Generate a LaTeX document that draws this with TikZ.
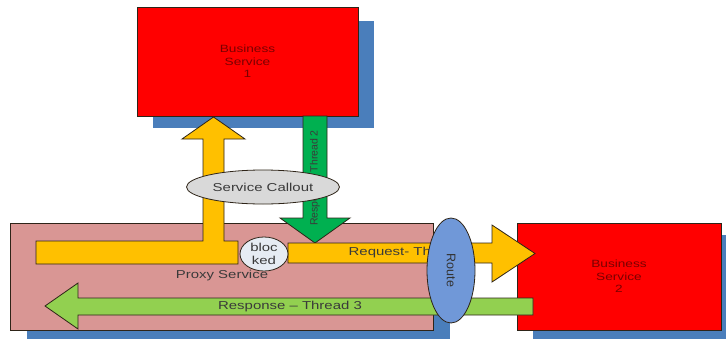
\documentclass[tikz,border=0pt]{standalone}
\usepackage{fontspec}
\setmainfont{Liberation Sans}
\newfontfamily\stretchsans[FakeStretch=1.3]{Liberation Sans}
\usetikzlibrary{shapes.geometric}
\definecolor{svcred}{HTML}{FF0000}
\definecolor{shadowblue}{HTML}{4A7EBB}
\definecolor{proxypink}{HTML}{D99694}
\definecolor{flowyellow}{HTML}{FFC000}
\definecolor{darkgreen}{HTML}{00B050}
\definecolor{lightgreen}{HTML}{92D050}
\definecolor{calloutgray}{HTML}{D9D9D9}
\definecolor{routeblue}{HTML}{7098D8}
\definecolor{blockfill}{HTML}{E6ECF3}
\definecolor{edge}{HTML}{2E2418}
\definecolor{svctext}{HTML}{7A0000}
\definecolor{labeltext}{HTML}{3A3A3A}
\begin{document}
\begin{tikzpicture}[x=1pt,y=-1pt,
  outline/.style={draw=edge, line width=0.8pt, line join=miter},
  shadow/.style={fill=shadowblue, draw=none},
  svcbox/.style={outline, fill=svcred, inner sep=0pt, align=center,
    text=svctext, font=\stretchsans\fontsize{10.5}{12.5}\selectfont},
  proxybox/.style={outline, fill=proxypink, inner sep=0pt},
  yellowarrow/.style={outline, fill=flowyellow},
  greenarrow/.style={outline, fill=darkgreen},
  lgreenarrow/.style={outline, fill=lightgreen},
  lbl/.style={text=labeltext, inner sep=0pt, font=\stretchsans\fontsize{11.5}{13}\selectfont},
  vlbl/.style={text=labeltext, inner sep=0pt, font=\fontsize{10.5}{12}\selectfont},
  oval/.style={ellipse, outline, inner sep=0pt}
]
\useasboundingbox (0,0) rectangle (726,338);

% drop shadows of the three service boxes
\fill[shadow] (153,21) rectangle (374,128);
\fill[shadow] (27,236) rectangle (450,345);
\fill[shadow] (533,235) rectangle (737,345);

% service boxes
\node[svcbox, minimum width=221pt, minimum height=109pt] (bs1) at (247.5,61.5) {Business\\Service\\1};
\node[proxybox, minimum width=423pt, minimum height=107pt] (proxy) at (221.5,276.5) {};
\node[svcbox, minimum width=204pt, minimum height=107pt] (bs2) at (619,276.5) {Business\\Service\\2};

% response thread 2: down arrow from service 1
\filldraw[greenarrow] (303,116) -- (327,116) -- (327,218) -- (350,218) -- (315,243)
  -- (280,218) -- (303,218) -- cycle;
\node[vlbl, rotate=90] (resp2) at (315,178) {Response- Thread 2};

% request thread 1 split: bar plus callout arrow up to service 1
\filldraw[yellowarrow] (36,241) -- (203,241) -- (203,139) -- (182,139) -- (213.5,117)
  -- (245,139) -- (224,139) -- (224,241) -- (238,241) -- (238,264) -- (36,264) -- cycle;

% request thread 1 continued: arrow to service 2
\filldraw[yellowarrow] (288,243) -- (492,243) -- (492,225) -- (535,253.5) -- (492,282)
  -- (492,263) -- (288,263) -- cycle;
\node[lbl] (req1) at (411,253) {Request- Thread 1};

% response thread 3: back arrow from service 2
\filldraw[lgreenarrow] (533,298) -- (78,298) -- (78,283) -- (45,306) -- (78,329)
  -- (78,315) -- (533,315) -- cycle;
\node[lbl] (resp3) at (290,306.5) {Response \textendash{} Thread 3};

\node[lbl] (proxylbl) at (222,275.5) {Proxy Service};

% ovals
\node[oval, fill=calloutgray, minimum width=153pt, minimum height=34pt, lbl] (callout)
  at (263,187) {Service Callout};
\node[oval, fill=blockfill, minimum width=48pt, minimum height=34pt, lbl, align=center,
  font=\stretchsans\fontsize{11.5}{13}\selectfont] (blocked) at (264,254) {bloc\\ked};
\node[oval, fill=routeblue, minimum width=105pt, minimum height=48pt, vlbl, rotate=-90,
  text=black!80, font=\fontsize{12.5}{14}\selectfont] (route) at (451,270.5) {Route};
\end{tikzpicture}
\end{document}
